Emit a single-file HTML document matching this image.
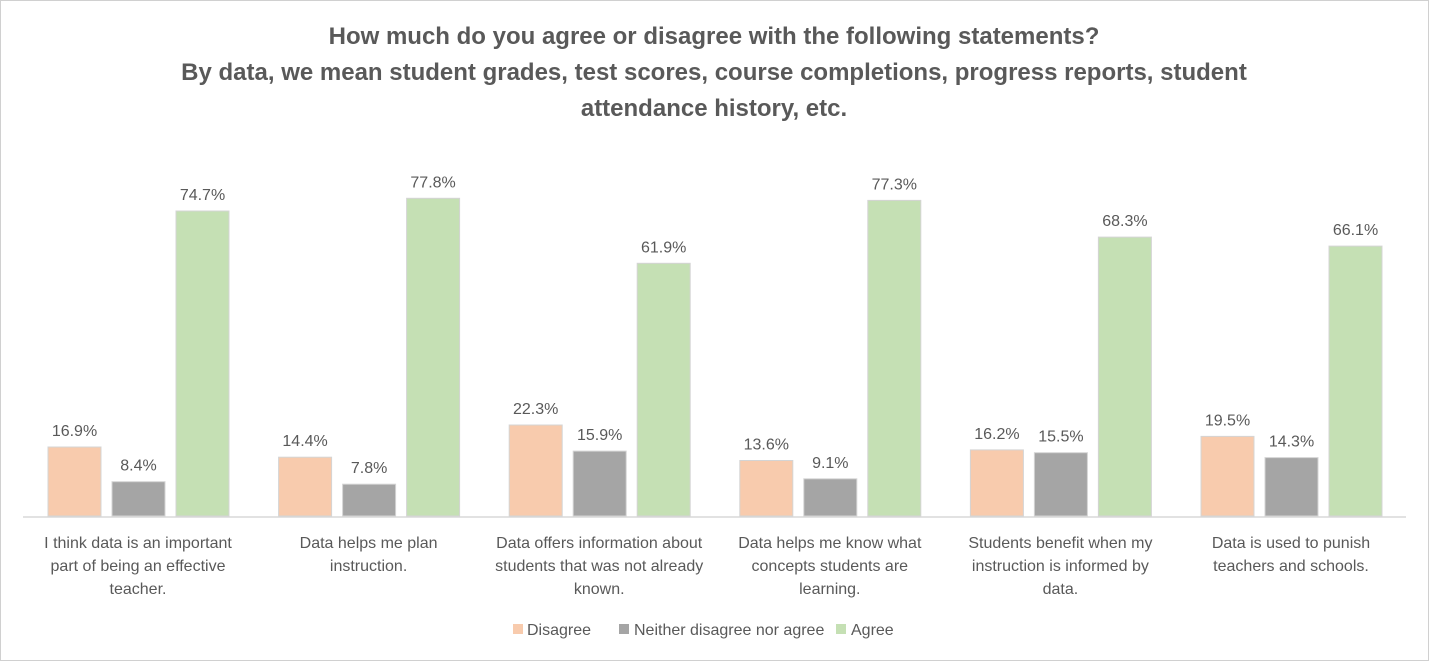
<!DOCTYPE html>
<html><head><meta charset="utf-8"><style>
body{margin:0;background:#fff}
svg{display:block;font-family:"Liberation Sans",sans-serif}
</style></head><body>
<svg width="1429" height="661" viewBox="0 0 1429 661" xmlns="http://www.w3.org/2000/svg">
<rect x="0.5" y="0.5" width="1428" height="660" fill="#fff" stroke="#d0d0d0"/>
<g font-size="24" font-weight="bold" fill="#595959" text-anchor="middle">
<text x="714" y="44">How much do you agree or disagree with the following statements?</text>
<text x="714" y="80">By data, we mean student grades, test scores, course completions, progress reports, student</text>
<text x="714" y="116">attendance history, etc.</text>
</g>
<line x1="23" y1="517" x2="1406" y2="517" stroke="#d9d9d9" stroke-width="1.5"/>
<g stroke="#d4d4d4" stroke-width="1">
<rect x="48" y="447.0" width="53" height="69.0" fill="#F8CBAD"/>
<rect x="112" y="481.7" width="53" height="34.3" fill="#A5A5A5"/>
<rect x="176" y="211.0" width="53" height="305.0" fill="#C5E0B4"/>
<rect x="278.6" y="457.2" width="53" height="58.8" fill="#F8CBAD"/>
<rect x="342.6" y="484.2" width="53" height="31.8" fill="#A5A5A5"/>
<rect x="406.6" y="198.3" width="53" height="317.7" fill="#C5E0B4"/>
<rect x="509.2" y="425.0" width="53" height="91.0" fill="#F8CBAD"/>
<rect x="573.2" y="451.1" width="53" height="64.9" fill="#A5A5A5"/>
<rect x="637.2" y="263.3" width="53" height="252.7" fill="#C5E0B4"/>
<rect x="739.8" y="460.5" width="53" height="55.5" fill="#F8CBAD"/>
<rect x="803.8" y="478.8" width="53" height="37.2" fill="#A5A5A5"/>
<rect x="867.8" y="200.4" width="53" height="315.6" fill="#C5E0B4"/>
<rect x="970.4" y="449.9" width="53" height="66.1" fill="#F8CBAD"/>
<rect x="1034.4" y="452.7" width="53" height="63.3" fill="#A5A5A5"/>
<rect x="1098.4" y="237.1" width="53" height="278.9" fill="#C5E0B4"/>
<rect x="1201" y="436.4" width="53" height="79.6" fill="#F8CBAD"/>
<rect x="1265" y="457.6" width="53" height="58.4" fill="#A5A5A5"/>
<rect x="1329" y="246.1" width="53" height="269.9" fill="#C5E0B4"/>
</g>
<g font-size="16" fill="#595959" text-anchor="middle">
<text x="74.5" y="436">16.9%</text><text x="138.5" y="470.7">8.4%</text><text x="202.5" y="200">74.7%</text>
<text x="305.1" y="446.2">14.4%</text><text x="369.1" y="473.2">7.8%</text><text x="433.1" y="187.3">77.8%</text>
<text x="535.7" y="414">22.3%</text><text x="599.7" y="440.1">15.9%</text><text x="663.7" y="252.3">61.9%</text>
<text x="766.3" y="449.5">13.6%</text><text x="830.3" y="467.8">9.1%</text><text x="894.3" y="189.4">77.3%</text>
<text x="996.9" y="438.9">16.2%</text><text x="1060.9" y="441.7">15.5%</text><text x="1124.9" y="226.1">68.3%</text>
<text x="1227.5" y="425.4">19.5%</text><text x="1291.5" y="446.6">14.3%</text><text x="1355.5" y="235.1">66.1%</text>

<text x="138" y="548">I think data is an important</text><text x="138" y="571">part of being an effective</text><text x="138" y="594">teacher.</text>
<text x="368.6" y="548">Data helps me plan</text><text x="368.6" y="571">instruction.</text>
<text x="599.2" y="548">Data offers information about</text><text x="599.2" y="571">students that was not already</text><text x="599.2" y="594">known.</text>
<text x="829.8" y="548">Data helps me know what</text><text x="829.8" y="571">concepts students are</text><text x="829.8" y="594">learning.</text>
<text x="1060.4" y="548">Students benefit when my</text><text x="1060.4" y="571">instruction is informed by</text><text x="1060.4" y="594">data.</text>
<text x="1291" y="548">Data is used to punish</text><text x="1291" y="571">teachers and schools.</text>
</g>
<g font-size="16" fill="#595959">
<rect x="513" y="624" width="10" height="10" fill="#F8CBAD"/><text x="527" y="635">Disagree</text>
<rect x="619" y="624" width="10" height="10" fill="#A5A5A5"/><text x="634" y="635">Neither disagree nor agree</text>
<rect x="836" y="624" width="10" height="10" fill="#C5E0B4"/><text x="851" y="635">Agree</text>
</g>
</svg>
</body></html>
